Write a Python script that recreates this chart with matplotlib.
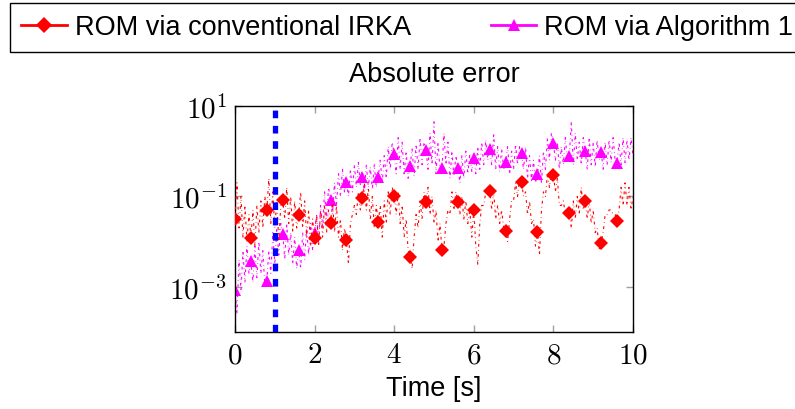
import numpy as np
import matplotlib
matplotlib.use("Agg")
import matplotlib.pyplot as plt
from matplotlib.lines import Line2D

plt.rcParams['font.family'] = ['Liberation Sans', 'DejaVu Sans']
plt.rcParams['mathtext.fontset'] = 'cm'

# --- data (log10 of absolute error) ---
t_line = np.round(np.arange(0, 201) * 0.05, 2)

irka_log = [
    -1.51, -0.7, -1.7, -1.0, -1.9, -1.2, -2.0, -1.4,
    -1.91, -1.3, -2.1, -1.2, -1.8, -1.1, -1.7, -1.0,
    -1.31, -0.6, -1.6, -0.9, -1.7, -1.1, -2.0, -1.2,
    -1.09, -1.5, -0.8, -1.6, -1.0, -1.8, -1.1, -1.7,
    -1.41, -0.9, -1.7, -1.1, -1.9, -1.3, -2.1, -1.5,
    -1.91, -1.4, -2.1, -1.3, -1.9, -1.2, -1.8, -1.3,
    -1.58, -1.1, -1.8, -1.2, -1.9, -1.5, -2.2, -1.7,
    -1.97, -2.5, -1.6, -1.4, -1.2, -1.4, -0.9, -1.3,
    -1.03, -0.7, -1.3, -0.8, -1.5, -1.0, -1.7, -1.2,
    -1.57, -1.2, -1.9, -1.1, -1.6, -0.9, -1.4, -0.8,
    -0.99, -1.4, -0.9, -1.6, -1.2, -1.9, -1.5, -2.2,
    -2.34, -2.6, -1.9, -1.4, -1.7, -1.1, -1.5, -0.9,
    -1.13, -0.8, -1.4, -1.0, -1.6, -1.3, -2.0, -1.6,
    -2.19, -2.1, -1.6, -1.3, -1.4, -0.9, -1.3, -0.9,
    -1.13, -1.4, -1.0, -1.5, -1.1, -1.6, -1.3, -1.9,
    -1.29, -2.1, -2.5, -1.6, -1.2, -1.2, -0.9, -0.8,
    -0.87, -1.3, -0.9, -1.5, -1.2, -1.6, -1.3, -1.7,
    -1.77, -2.0, -1.5, -1.1, -1.1, -0.7, -1.0, -0.6,
    -0.68, -1.0, -0.9, -1.4, -1.1, -1.6, -1.5, -2.1,
    -1.79, -2.3, -1.3, -0.9, -1.0, -0.5, -0.8, -0.45,
    -0.52, -0.9, -0.6, -1.2, -1.2, -1.1, -1.4, -1.3,
    -1.36, -1.7, -1.1, -1.5, -1.0, -1.4, -0.8, -1.3,
    -1.11, -1.5, -1.1, -1.6, -1.3, -1.8, -1.7, -2.2,
    -2.02, -1.8, -1.4, -1.4, -1.3, -1.3, -1.4, -1.4,
    -1.55, -1.3, -0.8, -1.2, -0.7, -1.2, -0.8, -1.3,
    -1.0,
]

alg1_log = [
    -3.08, -3.6, -2.4, -3.1, -2.2, -2.9, -2.1, -2.7,
    -2.44, -2.9, -2.1, -2.8, -2.0, -2.7, -2.2, -3.0,
    -2.87, -2.2, -2.7, -1.8, -2.5, -1.7, -2.3, -1.6,
    -1.83, -2.4, -1.6, -2.3, -1.8, -2.5, -1.9, -2.6,
    -2.19, -2.6, -1.8, -2.4, -1.7, -2.3, -1.6, -2.2,
    -1.80, -1.4, -2.0, -1.2, -1.7, -0.9, -1.5, -0.8,
    -1.07, -1.4, -0.7, -1.2, -0.5, -1.0, -0.4, -0.9,
    -0.68, -1.0, -0.4, -0.9, -0.3, -0.8, -0.25, -0.75,
    -0.57, -0.9, -0.3, -0.8, -0.35, -0.85, -0.3, -0.8,
    -0.57, -0.2, -0.7, -0.1, -0.6, 0.1, -0.4, 0.2,
    -0.07, -0.5, 0.3, -0.4, 0.2, -0.5, 0.0, -0.6,
    -0.32, 0.05, -0.55, 0.15, -0.4, 0.3, -0.3, 0.2,
    0.03, -0.4, 0.4, -0.3, 0.65, -0.5, 0.2, -0.4,
    -0.37, 0.4, -0.3, 0.2, -0.6, 0.0, -0.55, -0.1,
    -0.37, -0.7, -0.1, -0.6, 0.0, -0.5, -0.05, -0.45,
    -0.15, -0.5, 0.1, -0.4, 0.2, -0.3, 0.25, -0.2,
    0.05, -0.3, 0.4, -0.4, 0.1, -0.45, 0.05, -0.4,
    -0.24, 0.1, -0.5, 0.0, -0.4, 0.15, -0.3, 0.1,
    -0.04, -0.4, 0.1, -0.6, -0.1, -0.65, -0.2, -0.7,
    -0.50, -0.1, -0.7, 0.0, -0.4, 0.3, -0.2, 0.4,
    0.18, -0.2, 0.2, -0.4, 0.1, -0.3, 0.3, -0.2,
    -0.10, 0.65, -0.3, 0.4, -0.2, 0.2, -0.3, 0.3,
    0.0, -0.4, 0.3, -0.3, 0.2, -0.35, 0.25, -0.2,
    -0.02, -0.4, 0.2, -0.3, 0.25, -0.25, 0.3, -0.2,
    -0.26, 0.2, -0.3, 0.3, -0.25, 0.25, -0.2, 0.3,
    -0.1,
]

irka_err = 10.0 ** np.array(irka_log)
alg1_err = 10.0 ** np.array(alg1_log)

# markers every 0.4 s (every 8th sample), last sample has none
mark_idx = list(range(0, 200, 8))

t_switch = 1.0
xticks = [0, 2, 4, 6, 8, 10]
yticks = [1e-3, 1e-1, 1e1]
ytick_labels = [r'$10^{-3}$', r'$10^{-1}$', r'$10^{1}$']

RED = '#ff0000'
MAGENTA = '#ff00ff'
LINE_STYLE = (0, (2.5, 3.0, 0.6, 3.0))
FS = 19.5

fig = plt.figure(figsize=(7.95, 4.10), dpi=100)
ax = fig.add_axes([235/795, 1 - 333/410, 398/795, 226/410])

ax.plot(t_line, irka_err, color=RED, lw=0.8, ls=LINE_STYLE, marker='D', markersize=7,
        markevery=mark_idx, markeredgewidth=0, zorder=3)
ax.plot(t_line, alg1_err, color=MAGENTA, lw=0.8, ls=LINE_STYLE, marker='^', markersize=8,
        markevery=mark_idx, markeredgewidth=0, zorder=2)
ax.axvline(t_switch, color='blue', lw=3.8, ls=(0, (1.45, 1.45)), zorder=4)

ax.set_yscale('log')
ax.set_xlim(0, 10)
ax.set_ylim(1e-4, 1e1)
ax.set_xticks(xticks)
ax.set_xticklabels([rf'${v}$' for v in xticks])
ax.set_yticks(yticks)
ax.set_yticklabels(ytick_labels)
ax.yaxis.set_minor_locator(matplotlib.ticker.NullLocator())
ax.tick_params(which='both', direction='in', top=True, right=True, length=5,
               width=1, color='#a0a0a0', labelsize=21, pad=6)
for s in ax.spines.values():
    s.set_linewidth(1.0)

ax.set_xlabel('Time [s]', fontsize=FS, labelpad=5)
ax.set_title('Absolute error', fontsize=FS, pad=18)

handles = [
    Line2D([], [], color=RED, lw=2, marker='D', markersize=8, markeredgewidth=0),
    Line2D([], [], color=MAGENTA, lw=2, marker='^', markersize=9, markeredgewidth=0),
]
labels = ['ROM via conventional IRKA', 'ROM via Algorithm 1']
leg = fig.legend(handles, labels, loc='upper left', bbox_to_anchor=(10/795, 1 - 4/410),
                 ncol=2, fontsize=FS, frameon=True, fancybox=False, edgecolor='black',
                 framealpha=1, handlelength=1.67, handletextpad=0.3,
                 columnspacing=2.96, borderpad=0.42, borderaxespad=0)
leg.get_frame().set_linewidth(1.0)

fig.savefig('out.png', dpi=100)
